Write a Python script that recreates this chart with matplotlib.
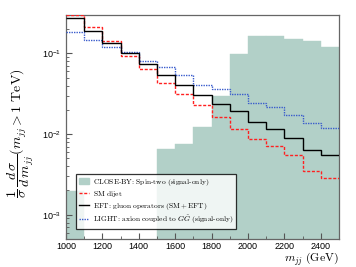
import numpy as np
import matplotlib
matplotlib.use("Agg")
import matplotlib.pyplot as plt
from matplotlib.patches import Patch
from matplotlib.lines import Line2D
from matplotlib.ticker import MultipleLocator, LogLocator, NullFormatter

plt.rcParams['font.family'] = ['Liberation Sans', 'DejaVu Sans']
plt.rcParams['mathtext.fontset'] = 'cm'

# bin edges of m_jj (GeV)
edges = [1000, 1100, 1200, 1300, 1400, 1500, 1600, 1700, 1800,
         1900, 2000, 2100, 2200, 2300, 2400, 2500]

# normalised distributions per bin
closeby = [0.00197, 0, 0, 0, 0, 0.00661, 0.00747, 0.0123, 0.0299,
           0.0991, 0.166, 0.164, 0.149, 0.141, 0.121]
sm_dijet = [0.298, 0.210, 0.142, 0.0936, 0.0633, 0.0434, 0.0310, 0.0228,
            0.0164, 0.0116, 0.0086, 0.0072, 0.00546, 0.00345, 0.00286]
eft = [0.272, 0.191, 0.133, 0.100, 0.0741, 0.0548, 0.0412, 0.0304,
       0.0237, 0.0192, 0.0142, 0.0117, 0.00905, 0.00642, 0.00556]
light = [0.186, 0.146, 0.120, 0.104, 0.0812, 0.067, 0.0533, 0.0412,
         0.0364, 0.031, 0.0246, 0.0218, 0.0173, 0.0139, 0.0118]

# all legend labels go through mathtext so they share the same metrics
labels = [r'$\mathrm{CLOSE}$-$\mathrm{BY}$:$\mathrm{\ Spin}$-$\mathrm{two\ (signal}$-$\mathrm{only)}$',
          r'$\mathrm{SM\ dijet}$',
          r'$\mathrm{EFT}$:$\mathrm{\ gluon\ operators\ (SM}+\mathrm{EFT)}$',
          r'$\mathrm{LIGHT}$:$\mathrm{\ axion\ coupled\ to}\ G\tilde{G}\ '
          r'\mathrm{(signal}$-$\mathrm{only)}$']

teal = '#b2d0c8'
red = '#ff2020'
blue = '#3a5ccc'

fig = plt.figure(figsize=(3.56, 2.67), dpi=100)
ax = fig.add_axes([0.1854, 0.1049, 0.767, 0.839])
ax.set_yscale('log')

ax.bar(edges[:-1], closeby, width=100, align='edge', color=teal,
       edgecolor=teal, linewidth=0.3, zorder=1)
ax.stairs(sm_dijet, edges, baseline=None, color=red, linestyle=(0, (2.2, 1.2)),
          linewidth=1.0, zorder=3)
ax.stairs(eft, edges, baseline=None, color='black', linewidth=1.0, zorder=4)
ax.stairs(light, edges, baseline=None, color=blue, linestyle=(0, (1, 0.8)),
          linewidth=1.0, zorder=3)

ax.set_xlim(1000, 2500)
ax.set_ylim(5e-4, 0.3)

ax.xaxis.set_major_locator(MultipleLocator(200))
ax.xaxis.set_minor_locator(MultipleLocator(100))
ax.yaxis.set_major_locator(LogLocator(base=10))
ax.yaxis.set_minor_locator(LogLocator(base=10, subs=np.arange(2, 10)))
ax.yaxis.set_minor_formatter(NullFormatter())
ax.tick_params(which='both', direction='in', labelsize=6.5, colors='#555555',
               labelcolor='black', top=False, right=False)
ax.tick_params(which='major', length=4, width=0.8)
ax.tick_params(which='minor', length=2.2, width=0.6)
ax.tick_params(axis='x', pad=2)

for s in ax.spines.values():
    s.set_color('#666666')
    s.set_linewidth(0.9)

ax.set_ylabel(r'$\dfrac{1}{\sigma}\,\dfrac{d\,\sigma}{d\,m_{jj}}(m_{jj} > 1\ \mathrm{TeV})$',
              fontsize=10)
ax.yaxis.set_label_coords(-0.11, 0.47)
ax.set_xlabel(r'$m_{jj}\ \mathrm{(GeV)}$', fontsize=8.5, loc='right')
ax.xaxis.set_label_coords(1.0, -0.055)

handles = [Patch(facecolor=teal, edgecolor=teal),
           Line2D([], [], color=red, linestyle=(0, (2.2, 1.2)), lw=1.0),
           Line2D([], [], color='black', lw=1.0),
           Line2D([], [], color=blue, linestyle=(0, (1, 0.8)), lw=1.0)]
leg = ax.legend(handles, labels, loc='lower left', bbox_to_anchor=(0.035, 0.045),
                prop={'family': 'cmr10', 'size': 5.4}, frameon=True, fancybox=False,
                handlelength=1.4, handleheight=0.9, handletextpad=0.5,
                labelspacing=0.22, borderpad=0.4, borderaxespad=0)
leg.get_frame().set_edgecolor('black')
leg.get_frame().set_linewidth(0.9)
leg.set_zorder(10)

fig.savefig('out.png', dpi=100)
